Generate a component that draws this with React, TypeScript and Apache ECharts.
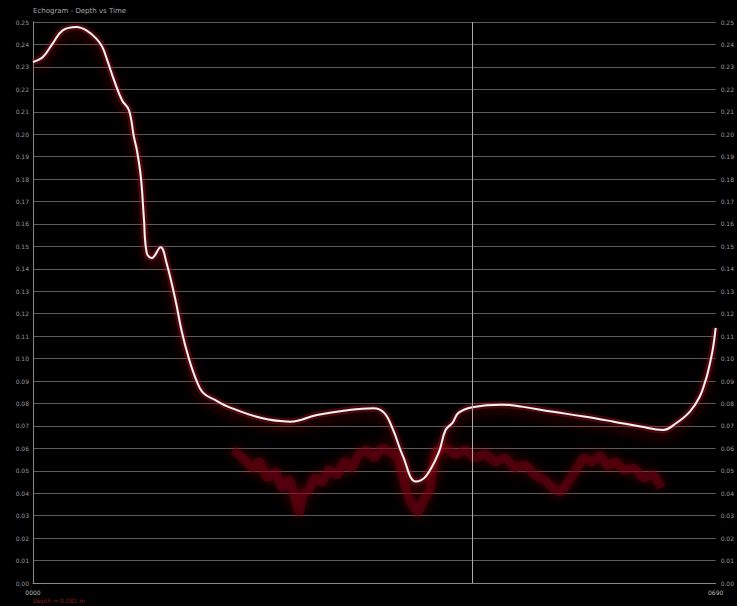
import React, { useEffect, useRef } from "react";
import * as echarts from "echarts";

// Bottom-track depth (smoothed) — ping index vs depth value
const trackPing = [0, 10, 20, 30, 44, 54, 64, 70, 75, 82, 90, 97, 102, 105, 109, 112, 115, 120, 129, 135, 144, 150, 157, 165, 172, 184, 197, 230, 260, 287, 314, 344, 355, 364, 374, 387, 397, 410, 417, 424, 430, 444, 474, 494, 524, 557, 587, 614, 637, 650, 664, 674, 680, 682, 687, 690];
const trackDepth = [0.2322, 0.2344, 0.2405, 0.2463, 0.2478, 0.2463, 0.2426, 0.2389, 0.233, 0.224, 0.2151, 0.2107, 0.1988, 0.1929, 0.181, 0.1632, 0.147, 0.1448, 0.1496, 0.1426, 0.1261, 0.1128, 0.1009, 0.0905, 0.0847, 0.0816, 0.0786, 0.0736, 0.0719, 0.0749, 0.0768, 0.0779, 0.0758, 0.0682, 0.0564, 0.0452, 0.0475, 0.058, 0.0682, 0.0714, 0.0758, 0.0783, 0.0794, 0.0786, 0.0764, 0.0742, 0.0719, 0.0697, 0.0682, 0.0712, 0.0764, 0.0831, 0.0905, 0.0936, 0.1039, 0.1137];

// Secondary (lower) echo band
const echoPing = [202, 212, 222, 229, 237, 245, 252, 259, 265, 269, 273, 279, 285, 292, 299, 307, 315, 322, 329, 337, 345, 353, 361, 369, 377, 383, 389, 395, 401, 407, 417, 427, 437, 447, 457, 467, 477, 487, 497, 507, 517, 525, 533, 541, 549, 557, 565, 573, 581, 589, 597, 607, 617, 627, 635];
const echoDepth = [0.0593, 0.0558, 0.0513, 0.054, 0.0469, 0.0495, 0.0424, 0.046, 0.0371, 0.0317, 0.0393, 0.0415, 0.0469, 0.0451, 0.0504, 0.0482, 0.054, 0.0513, 0.0571, 0.0593, 0.0558, 0.0602, 0.0585, 0.0549, 0.0415, 0.0349, 0.0317, 0.0371, 0.0415, 0.0585, 0.0602, 0.0571, 0.0593, 0.0558, 0.0576, 0.054, 0.0558, 0.0513, 0.0527, 0.0482, 0.046, 0.0424, 0.0406, 0.0451, 0.0504, 0.0558, 0.054, 0.0567, 0.0522, 0.054, 0.0504, 0.0513, 0.0469, 0.0482, 0.0424];

const cursorPing = 444;
const xMin = 0;
const xMax = 690;
const yMin = 0;
const yMax = 0.25;
const yStep = 0.01;

export default function App() {
  const ref = useRef<HTMLDivElement>(null);
  useEffect(() => {
    document.body.style.margin = "0";
    document.body.style.background = "#000";
    const chart = echarts.init(ref.current!, null, { renderer: "svg" });
    const track = trackPing.map((p, i) => [p, trackDepth[i]]);
    const echo = echoPing.map((p, i) => [p, echoDepth[i]]);
    const yLabel = {
      color: "#9a9a9a",
      fontSize: 6,
      fontFamily: "DejaVu Sans",
      formatter: (v: number) => v.toFixed(2),
    };
    chart.setOption({
      animation: false,
      backgroundColor: "#000",
      grid: { left: 33, right: 14, top: 22, bottom: 23 },
      graphic: [
        {
          type: "text",
          left: 33,
          top: 7,
          style: { text: "Echogram - Depth vs Time", fill: "#a8a8a8", fontSize: 7, fontFamily: "DejaVu Sans" },
        },
        {
          type: "text",
          left: 33,
          top: 597,
          style: { text: "Depth = 0.081 m", fill: "#8a1a26", fontSize: 6, fontFamily: "DejaVu Sans" },
        },
      ],
      xAxis: [
        {
          type: "value",
          min: xMin,
          max: xMax,
          interval: xMax,
          axisLine: { show: true, lineStyle: { color: "#888" } },
          axisTick: { show: false },
          splitLine: { show: false },
          axisLabel: {
            color: "#bdbdbd",
            fontSize: 6,
            fontFamily: "DejaVu Sans",
            margin: 6,
            formatter: (v: number) => String(Math.round(v)).padStart(4, "0"),
          },
        },
        {
          type: "value",
          min: xMin,
          max: xMax,
          interval: 30,
          show: false,
          splitLine: { show: true, lineStyle: { color: "#1c1c1c", type: [1, 2] } },
        },
      ],
      yAxis: [
        {
          type: "value",
          min: yMin,
          max: yMax,
          interval: yStep,
          position: "left",
          axisLine: { show: true, lineStyle: { color: "#888" } },
          axisTick: { show: false },
          axisLabel: { ...yLabel, margin: 4 },
          splitLine: { show: true, lineStyle: { color: "#5c5c5c", width: 1 } },
        },
        {
          type: "value",
          min: yMin,
          max: yMax,
          interval: yStep,
          position: "right",
          axisLine: { show: true, lineStyle: { color: "#888" } },
          axisTick: { show: false },
          axisLabel: { ...yLabel, margin: 5 },
          splitLine: { show: false },
        },
      ],
      series: [
        {
          type: "line",
          name: "echo2",
          data: echo,
          smooth: 0.2,
          showSymbol: false,
          lineStyle: {
            color: "rgba(125,12,22,0.45)",
            width: 9,
            shadowColor: "rgba(150,15,25,1)",
            shadowBlur: 12,
          },
          z: 2,
        },
        {
          type: "line",
          name: "echo1",
          data: track,
          smooth: 0.4,
          showSymbol: false,
          lineStyle: {
            color: "rgba(150,15,28,0.42)",
            width: 7,
          },
          z: 2,
        },
        {
          type: "line",
          name: "depth",
          data: track,
          smooth: 0.4,
          showSymbol: false,
          lineStyle: {
            color: "#f2f2f2",
            width: 2,
            shadowColor: "rgba(170,15,30,1)",
            shadowBlur: 12,
            shadowOffsetY: 6,
          },
          markLine: {
            silent: true,
            symbol: "none",
            label: { show: false },
            lineStyle: { color: "#aaa", width: 1, type: "solid" },
            data: [{ xAxis: cursorPing }],
          },
          z: 3,
        },
      ],
    });
    return () => chart.dispose();
  }, []);
  return <div ref={ref} style={{ width: 737, height: 606, background: "#000" }} />;
}
